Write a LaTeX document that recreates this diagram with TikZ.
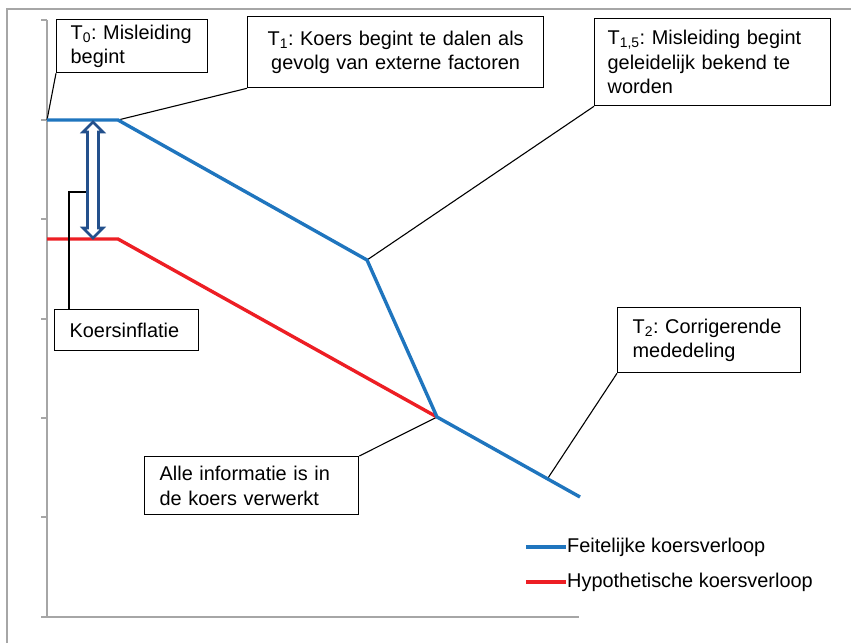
\documentclass[tikz,border=0pt]{standalone}
\usepackage{fontspec}
\setmainfont{Liberation Sans}
\frenchspacing
\newcommand{\lblfont}{\fontsize{19.9}{24.5}\selectfont}
\definecolor{actualblue}{RGB}{31,117,190}
\definecolor{hypored}{RGB}{237,30,36}
\definecolor{arrowblue}{RGB}{35,80,140}
\definecolor{axisgray}{RGB}{166,166,166}
\begin{document}
\begin{tikzpicture}[x=1pt,y=-1pt,
  callout/.style={draw=black, line width=1.3pt, fill=white, font=\lblfont,
    anchor=north west, align=left, inner ysep=0pt},
  leader/.style={draw=black, line width=1.1pt},
  actual/.style={draw=actualblue, line width=3.4pt},
  hypo/.style={draw=hypored, line width=3.4pt},
  axis/.style={draw=axisgray, line width=1.4pt},
  legendtext/.style={font=\lblfont, anchor=west, inner sep=1pt}]
\useasboundingbox (0,0) rectangle (851,643);

% outer frame (open at right and bottom)
\draw[axis] (7,643) -- (7,9) -- (851,9);

% axes and ticks
\draw[axis] (47,20) -- (47,617) -- (579,617);
\foreach \ty in {20,120,219,319,418,517,617}
  \draw[axis] (41,\ty) -- (47,\ty);

% points of the two price paths
\coordinate (b0) at (47,120);
\coordinate (b1) at (118,120);
\coordinate (b2) at (367,260);
\coordinate (m)  at (437,417);
\coordinate (b4) at (580,497);
\coordinate (r0) at (47,239);
\coordinate (r1) at (118,239);
\coordinate (t2pt) at (548,478);

% callout boxes
\node[callout, text width=123pt, inner xsep=14pt, minimum height=53pt]
  (t0) at (56,19) {T\textsubscript{0}: Misleiding\\begint};
\node[callout, text width=296pt, inner xsep=0pt, minimum height=71pt, align=center]
  (t1) at (247,16) {T\textsubscript{1}: Koers begint te dalen als\\gevolg van externe factoren};
\node[callout, text width=210pt, inner xsep=13pt, minimum height=87pt]
  (t15) at (594,18) {T\textsubscript{1,5}: Misleiding begint\\geleidelijk bekend te\\worden};
\node[callout, text width=114pt, inner xsep=15pt, minimum height=41pt]
  (infl) at (54,309) {Koersinflatie};
\node[callout, text width=184pt, inner xsep=15pt, minimum height=58pt]
  (alle) at (144,456) {Alle informatie is in\\de koers verwerkt};
\node[callout, text width=153pt, inner xsep=15pt, minimum height=65pt]
  (t2) at (617,307) {T\textsubscript{2}: Corrigerende\\mededeling};

% leader lines from the boxes to the curve
\draw[leader] (t0.south west) -- (b0);
\draw[leader] (t1.south west) -- (b1);
\draw[leader] (t15.south west) -- (b2);
\draw[leader] (alle.north east) -- (m);
\draw[leader] (t2.south west) -- (t2pt);

% price paths
\draw[hypo, line join=round] (r0) -- (r1) -- (m);
\draw[actual, line join=round] (b0) -- (b1) -- (b2) -- (m) -- (b4);

% hollow double arrow marking the inflation gap
\draw[arrowblue, line width=2.6pt, fill=white, line join=miter]
  (93,122) -- (103,132) -- (98.5,132) -- (98.5,228) -- (103,228) -- (93,238)
  -- (83,228) -- (87.5,228) -- (87.5,132) -- (83,132) -- cycle;
\coordinate (gap) at (86.2,192);
\draw[leader] (infl.north west) ++(15,0) |- (gap);

% legend
\coordinate (lb0) at (526,547);
\coordinate (lb1) at (566,547);
\coordinate (lr0) at (526,582);
\coordinate (lr1) at (566,582);
\draw[actual] (lb0) -- (lb1);
\draw[hypo] (lr0) -- (lr1);
\node[legendtext] (legb) at (lb1) {Feitelijke koersverloop};
\node[legendtext] (legr) at (lr1) {Hypothetische koersverloop};
\end{tikzpicture}
\end{document}
